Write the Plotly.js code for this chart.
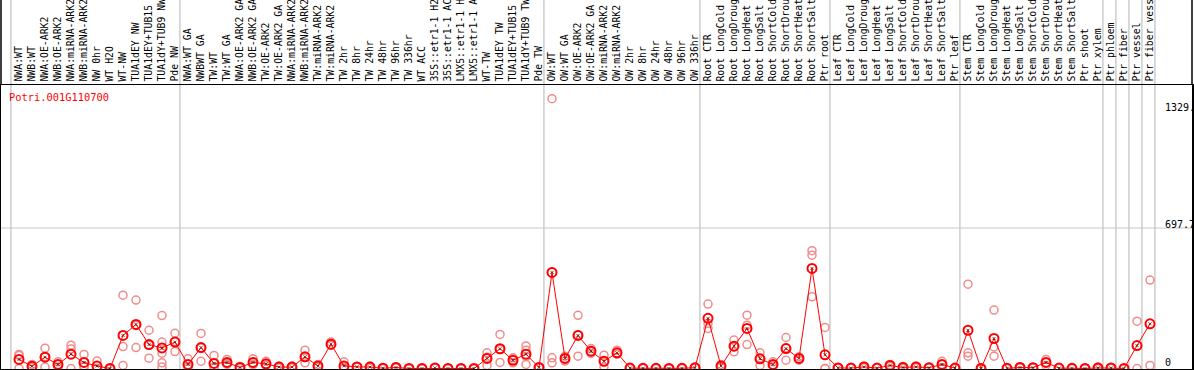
<!DOCTYPE html>
<html>
<head>
<meta charset="utf-8">
<script src="https://cdn.plot.ly/plotly-3.0.1.min.js"></script>
<style>
html,body{margin:0;padding:0;background:#fff;}
#chart{width:1194px;height:370px;}
</style>
</head>
<body>
<div id="chart"></div>
<script>
var categories = [
"NWA:WT","NWB:WT","NWA:OE-ARK2","NWB:OE-ARK2","NWA:miRNA-ARK2","NWB:miRNA-ARK2","NW 0hr","WT H2O","WT-NW","TUA1dEY NW","TUA1dEY+TUB15 NW","TUA1dY+TUB9 NW","Pde NW",
"NWA:WT GA","NWBWT GA","TW:WT","TW:WT GA","NWA:OE-ARK2 GA","NWB:OE-ARK2 GA","TW:OE-ARK2","TW:OE-ARK2 GA","NWA:miRNA-ARK2 GA","NWB:miRNA-ARK2 GA","TW:miRNA-ARK2","TW:miRNA-ARK2 GA","TW 2hr","TW 8hr","TW 24hr","TW 48hr","TW 96hr","TW 336hr","WT ACC","35S::etr1-1 H2O","35S::etr1-1 ACC","LMX5::etr1-1 H2O","LMX5::etr1-1 ACC","WT-TW","TUA1dEY TW","TUA1dEY+TUB15 TW","TUA1dY+TUB9 TW","Pde TW",
"OW:WT","OW:WT GA","OW:OE-ARK2","OW:OE-ARK2 GA","OW:miRNA-ARK2","OW:miRNA-ARK2 GA","OW 2hr","OW 8hr","OW 24hr","OW 48hr","OW 96hr","OW 336hr",
"Root CTR","Root LongCold","Root LongDrought","Root LongHeat","Root LongSalt","Root ShortCold","Root ShortDrought","Root ShortHeat","Root ShortSalt","Ptr root",
"Leaf CTR","Leaf LongCold","Leaf LongDrought","Leaf LongHeat","Leaf LongSalt","Leaf ShortCold","Leaf ShortDrought","Leaf ShortHeat","Leaf ShortSalt","Ptr leaf",
"Stem CTR","Stem LongCold","Stem LongDrought","Stem LongHeat","Stem LongSalt","Stem ShortCold","Stem ShortDrought","Stem ShortHeat","Stem ShortSalt","Ptr shoot","Ptr xylem",
"Ptr phloem","Ptr fiber","Ptr vessel","Ptr fiber vessel"
];

var meanValues = [
45,11,56,20,71,30,12,0,164,219,119,102,131,
20,104,25,30,5,30,23,7,7,58,12,121,13,8,7,1.5,5,0,0,3,0,0,0,50,98,41,71,5,
477,50,164,86,36,78,2,1,1,0,1,4,
249,12,111,199,48,20,99,50,497,68,
3,2,8,2,15,5,8,4,20,2,
190,0,149,1,5,4,30,2,1,0,3,
3,0,114,222
];

var replicateValues = [
[70,65,0],[20,8,5],[101,60,7],[33,20,7],[116,97,0],[70,12,8],[37,0,0],[0,0,0],[364,109,15],[340,213,104],[190,116,51],[263,131,76,28,8],[175,134,84],
[48,10,0],[174,102,36],[65,8,2],[45,25,20],[10,5,0],[49,22,19],[36,18,15],[12,5,4],[12,6,3],[91,55,28],[20,8,8],[132,116,115],[33,5,0],[10,8,6],[12,5,3],[3,1,0],[8,5,2],[0,0,0],[0,0,0],[5,3,1],[0,0,0],[0,0,0],[0,0,0],[78,56,15],[169,94,30],[53,42,28],[112,91,60,20],[8,5,2],
[1340,53,28],[61,50,37],[264,167,61],[99,84,75],[66,34,8],[91,72,71],[4,2,0],[2,1,0],[2,1,0],[0,0,0],[2,1,0],[6,4,2],
[320,224,199],[20,10,6],[141,109,83],[265,215,119],[78,51,15],[33,15,12],[154,102,41],[58,49,41],[585,563,356],[204,0,0],
[5,3,1],[3,2,1],[12,8,4],[3,2,1],[20,15,10],[10,5,0],[12,8,4],[6,4,2],[36,20,4],[3,2,1],
[419,78,61],[0,0,0],[290,107,61],[2,1,0],[8,5,2],[6,4,2],[45,30,15],[3,2,1],[2,1,0],[0,0,0],[8,1,0],
[5,3,1],[0,0],[235,0],[439,15]
];

var groupStarts = [0,13,41,53,63,73,84,85,86,87,88];
var axisLabels = ["1329.","697.7","0"];
var axisLabelValues = [1329,697.7,0];
var geneName = "Potri.001G110700";

var idx = categories.map(function(_,i){return i;});
var repX = [], repY = [];
replicateValues.forEach(function(arr,i){arr.forEach(function(v){repX.push(i);repY.push(v);});});

var mono = "DejaVu Sans Mono, Liberation Mono, monospace";

var traces = [
 {x:repX,y:repY,type:'scatter',mode:'markers',cliponaxis:false,hoverinfo:'skip',
  marker:{symbol:'circle-open',size:8,color:'rgb(240,140,140)',line:{width:1.5,color:'rgb(240,140,140)'}}},
 {x:idx,y:meanValues,type:'scatter',mode:'lines+markers',cliponaxis:false,
  line:{color:'#ff0000',width:1},
  marker:{symbol:'circle-open',size:9,color:'#ff0000',line:{width:2,color:'#ff0000'}}},
 {x:idx,y:meanValues,type:'scatter',mode:'markers',cliponaxis:false,hoverinfo:'skip',
  marker:{symbol:'x-thin-open',size:3,color:'#600',line:{width:0.8,color:'#600'}}}
];

var shapes = [];
groupStarts.forEach(function(b){
 shapes.push({type:'line',xref:'x',yref:'paper',x0:b-0.62,x1:b-0.62,y0:0,y1:1.31,layer:'below',
   line:{color:'rgb(192,192,192)',width:1.2}});
});
shapes.push({type:'line',xref:'paper',yref:'y',x0:0,x1:1,y0:697.7,y1:697.7,layer:'below',
   line:{color:'rgb(200,200,200)',width:1}});
shapes.push({type:'line',xref:'paper',yref:'paper',x0:0,x1:0,y0:1,y1:1.31,line:{color:'#000',width:1.5}});
shapes.push({type:'line',xref:'paper',yref:'paper',x0:1,x1:1,y0:1,y1:1.31,line:{color:'#000',width:1.5}});

var shifts = [-7,4,6.5];
var annotations = axisLabels.map(function(t,k){
 return {text:t,xref:'x',yref:'y',x:88,y:axisLabelValues[k],xanchor:'left',yanchor:'middle',yshift:shifts[k],
  showarrow:false,font:{family:mono,size:10,color:'#000'}};
});
annotations.push({text:geneName,xref:'paper',yref:'paper',x:0.005,y:0.958,xanchor:'left',yanchor:'middle',
  showarrow:false,font:{family:mono,size:10.4,color:'#ff0000'}});

var layout = {
 width:1194,height:370,
 margin:{l:1,r:2,t:85,b:1,pad:0},
 paper_bgcolor:'#fff',plot_bgcolor:'#fff',
 showlegend:false,
 xaxis:{side:'top',range:[-1.3846,90.2308],tickmode:'array',tickvals:idx,ticktext:categories,
  tickangle:-90,ticks:'',showgrid:false,zeroline:false,showline:true,mirror:true,linecolor:'#000',linewidth:1.5,
  tickfont:{family:mono,size:9.8,color:'#000'},automargin:false,fixedrange:true},
 yaxis:{range:[-2.5,1408],showticklabels:false,ticks:'',showgrid:false,zeroline:false,showline:true,mirror:true,
  linecolor:'#000',linewidth:1.5,automargin:false,fixedrange:true},
 shapes:shapes,annotations:annotations
};

Plotly.newPlot('chart',traces,layout,{displayModeBar:false,staticPlot:true});
</script>
</body>
</html>
